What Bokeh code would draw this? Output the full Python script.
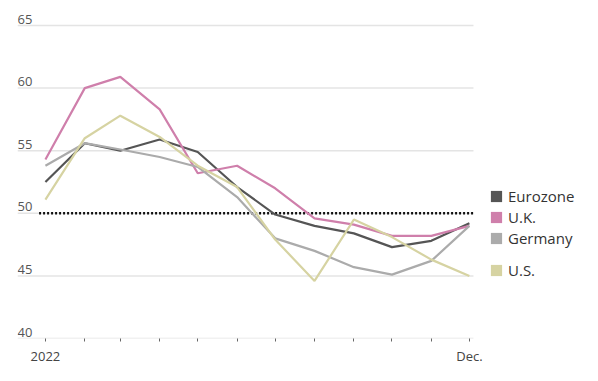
import math
import pandas as pd
from bokeh.plotting import figure
from bokeh.models import FixedTicker, Range1d, Legend, LegendItem, ColumnDataSource
from bokeh.core.properties import value
from bokeh.embed import file_html
from bokeh.resources import INLINE

# ---- data ----
months = pd.date_range("2022-01-01", periods=12, freq="MS")
tick_labels = ["2022", "", "", "", "", "", "", "", "", "", "", "Dec."]
eurozone = [52.5, 55.6, 55.0, 55.9, 54.9, 52.1, 49.9, 49.0, 48.4, 47.3, 47.8, 49.2]
uk = [54.3, 60.0, 60.9, 58.3, 53.2, 53.8, 52.0, 49.6, 49.1, 48.2, 48.2, 49.0]
germany = [53.8, 55.6, 55.1, 54.5, 53.7, 51.3, 48.0, 47.0, 45.7, 45.1, 46.2, 49.0]
us = [51.1, 56.0, 57.8, 56.1, 53.8, 52.1, 47.9, 44.6, 49.5, 48.1, 46.3, 45.0]
y_ticks = [40, 45, 50, 55, 60, 65]
threshold = 50

series = [
    ("Eurozone", eurozone, "#555555"),
    ("U.K.", uk, "#cf7fab"),
    ("Germany", germany, "#ababab"),
    ("U.S.", us, "#d6d3a2"),
]

days = [(d - months[0]).days for d in months]
FONT = "Open Sans"
X0, X1 = -22, 337.2          # extent of the plotted area (days)
NAN = math.nan

p = figure(width=590, height=373, output_backend="svg", toolbar_location=None,
           x_range=Range1d(X0, 429.4), y_range=Range1d(40, 66.36),
           min_border_left=17, min_border_right=0, min_border_top=8, min_border_bottom=35)
p.outline_line_color = None
p.background_fill_color = "white"
p.border_fill_color = "white"

p.yaxis.visible = False
p.xgrid.visible = False
p.ygrid.visible = False

# horizontal gridlines (incl. baseline) limited to the plotted area
gsrc = ColumnDataSource(dict(x0=[X0] * len(y_ticks), x1=[X1] * len(y_ticks), y=y_ticks))
p.segment(x0="x0", x1="x1", y0="y", y1="y", source=gsrc, line_color="#e4e4e4", line_width=1.5)

ax = p.xaxis[0]
ax.ticker = FixedTicker(ticks=days)
ax.major_label_overrides = {d: lab for d, lab in zip(days, tick_labels)}
ax.axis_line_color = None
ax.major_tick_line_color = "#666666"
ax.major_tick_in = 0
ax.major_tick_out = 3
ax.minor_tick_line_color = None
ax.major_label_text_font = FONT
ax.major_label_text_font_size = "13px"
ax.major_label_text_color = "#444444"
ax.major_label_standoff = 5

# y tick labels drawn above gridlines, left aligned
ysrc = ColumnDataSource(dict(x=[X0] * len(y_ticks), y=y_ticks, t=[str(v) for v in y_ticks]))
p.text(x="x", y="y", text="t", source=ysrc, text_font=value(FONT), text_font_size="13px",
       text_color="#555555", text_align="left", text_baseline="bottom", y_offset=-2)

# 50 reference line (dotted)
p.segment(x0=[days[0] - 5], x1=[X1], y0=[threshold], y1=[threshold],
          line_color="#111111", line_width=2.5, line_dash="2 2")

items = []
for name, vals, col in series:
    p.line(days, vals, line_color=col, line_width=2.2)
    q = p.quad(left=[NAN], right=[NAN], top=[NAN], bottom=[NAN], fill_color=col, line_color=None)
    items.append(LegendItem(label=name, renderers=[q]))

def mk_legend(its, loc):
    lg = Legend(items=its, location=loc, orientation="vertical",
                glyph_width=14, glyph_height=14, label_height=14,
                label_standoff=5, spacing=1, padding=0, margin=0,
                border_line_color=None, background_fill_alpha=0,
                label_text_font=FONT, label_text_font_size="15px",
                label_text_color="#333333")
    return lg

p.add_layout(mk_legend(items[:3], (472, 90)), "center")
p.add_layout(mk_legend(items[3:], (472, 58)), "center")

open("out.html", "w").write(file_html(p, INLINE))
